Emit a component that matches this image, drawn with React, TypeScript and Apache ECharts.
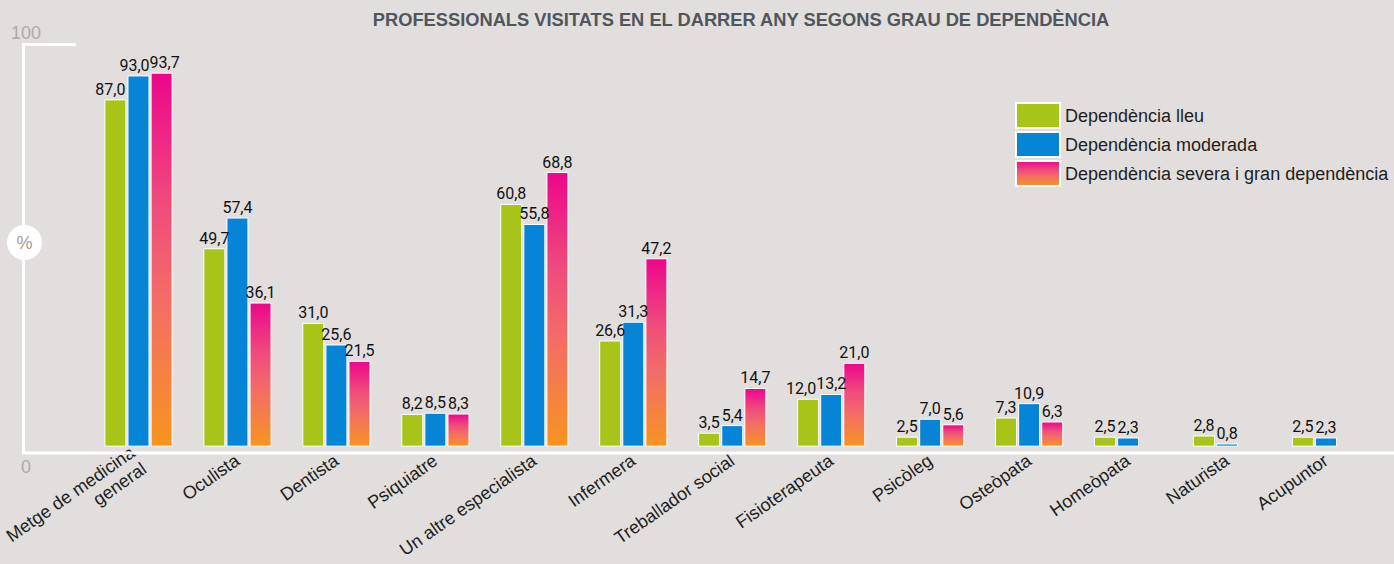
import React, { useEffect, useRef } from "react";
import * as echarts from "echarts";

// Professionals visited in the last year, by degree of dependency (%)
const categories = [
  "Metge de medicina\ngeneral",
  "Oculista",
  "Dentista",
  "Psiquiatre",
  "Un altre especialista",
  "Infermera",
  "Treballador social",
  "Fisioterapeuta",
  "Psicòleg",
  "Osteòpata",
  "Homeòpata",
  "Naturista",
  "Acupuntor",
];

const seriesNames = [
  "Dependència lleu",
  "Dependència moderada",
  "Dependència severa i gran dependència",
];

const lleu = [87.0, 49.7, 31.0, 8.2, 60.8, 26.6, 3.5, 12.0, 2.5, 7.3, 2.5, 2.8, 2.5];
const moderada = [93.0, 57.4, 25.6, 8.5, 55.8, 31.3, 5.4, 13.2, 7.0, 10.9, 2.3, 0.8, 2.3];
const severa = [93.7, 36.1, 21.5, 8.3, 68.8, 47.2, 14.7, 21.0, 5.6, 6.3, null, null, null];

const yTicks = [0, 100];

const FONT = "'Liberation Sans', Arial, Helvetica, sans-serif";
const LABEL_FONT = "Roboto, 'Liberation Sans', sans-serif";

// Horizontal nudges (px) for value labels that would otherwise collide: [series, category, dx]
const labelNudges: [number, number, number][] = [
  [0, 0, -5],
  [1, 0, -4],
  [2, 0, 3],
  [0, 7, -7],
];

export default function App() {
  const ref = useRef<HTMLDivElement>(null);

  useEffect(() => {
    if (!ref.current) return;
    const chart = echarts.init(ref.current, null, { renderer: "svg" });

    const pinkOrange = new echarts.graphic.LinearGradient(0, 0, 0, 1, [
      { offset: 0, color: "#ec068b" },
      { offset: 0.35, color: "#ef4b7c" },
      { offset: 0.6, color: "#f36c68" },
      { offset: 1, color: "#f7941f" },
    ]);
    const colors = ["#a9c418", "#0685d6", pinkOrange];
    const values = [lleu, moderada, severa];

    const fmt = (v: number) => v.toFixed(1).replace(".", ",");

    const seriesData = (si: number) =>
      values[si].map((v, ci) => {
        const n = labelNudges.find(([s, c]) => s === si && c === ci);
        return n ? { value: v, label: { offset: [n[2], 0] } } : v;
      });

    chart.setOption({
      animation: false,
      backgroundColor: "#e1dedd",
      title: {
        text: "PROFESSIONALS VISITATS EN EL DARRER ANY SEGONS GRAU DE DEPENDÈNCIA",
        left: 741,
        textAlign: "center",
        top: 10,
        padding: 0,
        textStyle: {
          fontFamily: FONT,
          fontSize: 18.3,
          fontWeight: "bold",
          color: "#4f565c",
        },
      },
      legend: {
        orient: "vertical",
        left: 1015,
        top: 102,
        padding: 0,
        icon: "rect",
        itemWidth: 44,
        itemHeight: 25,
        itemGap: 2,
        selectedMode: false,
        textStyle: { fontFamily: FONT, fontSize: 18, color: "#1e1e1e" },
        data: seriesNames,
      },
      grid: { left: 88.5, right: 18.5, top: 47.5, bottom: 111.5, containLabel: false },
      xAxis: {
        type: "category",
        data: categories,
        axisLine: { show: false },
        axisTick: { show: false },
        axisLabel: {
          interval: 0,
          rotate: 35,
          margin: 12,
          fontFamily: FONT,
          fontSize: 18,
          color: "#1e1e1e",
          lineHeight: 20,
        },
      },
      yAxis: {
        type: "value",
        min: yTicks[0],
        max: yTicks[1],
        interval: 100,
        offset: 65,
        axisLine: { show: false },
        axisTick: { show: false },
        splitLine: { show: false },
        axisLabel: {
          margin: -2,
          align: "center",
          formatter: (v: number) => (v === yTicks[1] ? `{top|${v}}` : `{bot|${v}}`),
          rich: {
            top: { fontFamily: FONT, fontSize: 18, color: "#b1a9a9", padding: [0, 0, 29, 0] },
            bot: { fontFamily: FONT, fontSize: 18, color: "#b1a9a9", padding: [40, 0, 0, 0] },
          },
        },
      },
      graphic: [
        {
          type: "polyline",
          shape: { points: [[76, 44.5], [23.5, 44.5], [23.5, 452]] },
          style: { stroke: "#ffffff", lineWidth: 3, fill: null },
          z: 1,
        },
        {
          type: "line",
          shape: { x1: 22, y1: 453, x2: 1394, y2: 453 },
          style: { stroke: "#ffffff", lineWidth: 3 },
          z: 10,
        },
        {
          type: "circle",
          shape: { cx: 24.5, cy: 242.5, r: 17.5 },
          style: { fill: "#ffffff" },
          z: 2,
        },
        {
          type: "text",
          x: 24.5,
          y: 243,
          style: {
            text: "%",
            fontFamily: FONT,
            fontSize: 18,
            fill: "#a39c9c",
            align: "center",
            verticalAlign: "middle",
          },
          z: 3,
        },
      ],
      series: seriesNames.map((name, i) => ({
        name,
        type: "bar",
        data: seriesData(i),
        barWidth: 22,
        barGap: "5%",
        itemStyle: { color: colors[i], borderColor: "#ffffff", borderWidth: 1 },
        label: {
          show: true,
          position: "top",
          distance: 2,
          fontFamily: LABEL_FONT,
          fontSize: 16,
          color: "#111111",
          formatter: (p: any) => fmt(p.value),
        },
      })),
    });

    return () => chart.dispose();
  }, []);

  return (
    <div
      ref={ref}
      style={{ position: "fixed", left: 0, top: 0, width: 1394, height: 564 }}
    />
  );
}
